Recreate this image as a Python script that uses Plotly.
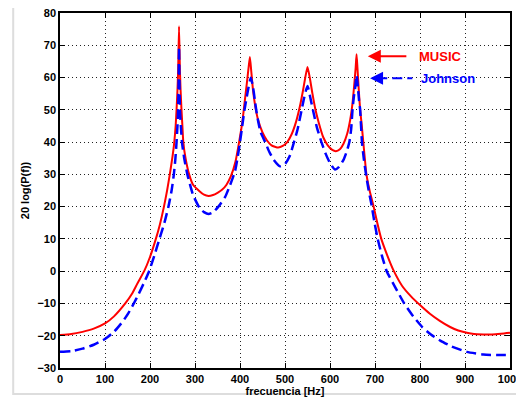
import plotly.graph_objects as go

# MUSIC spectrum (dB)
music_f = [0, 25, 50, 75, 100, 120, 145, 160, 172, 187, 200, 213, 222, 231, 238, 244,
           250, 254, 257, 259, 261, 262.5, 264.5, 266.5, 268, 270, 272, 274, 279, 287,
           296, 310, 320, 330, 340, 350, 360, 370, 380, 390, 398, 405, 410, 415, 419,
           422, 425, 429, 434, 440, 450, 460, 470, 485, 495, 505, 515, 525, 533, 540,
           545, 550, 555, 561, 567, 575, 585, 595, 605, 613, 622, 630, 638, 645, 650,
           654, 657, 659, 661, 664, 667, 670, 674, 681, 688, 697, 705, 714, 727, 742,
           760, 780, 800, 822, 844, 867, 885, 904, 920, 941, 960, 980, 1000]
music_db = [-19.8, -19.5, -18.8, -17.8, -16.2, -14, -10, -7, -3.8, 0, 4.4, 10, 14.5, 20, 25, 30,
            35.5, 40, 45, 50, 56, 62, 75.9, 62, 56, 50, 45, 40, 35, 30,
            26.7, 24.8, 23.7, 23.3, 23.6, 24.3, 25.2, 26.8, 29.5, 34, 40, 46, 52, 58, 63,
            66.4, 62, 56, 51, 47, 43, 40.5, 39, 38.3, 38.8, 40, 42.5, 46.5, 51, 56,
            60, 63.3, 60, 55, 50.5, 46, 41.5, 39, 37.6, 37.2, 37.8, 39.5, 42.5, 47, 52,
            58, 63, 67.2, 63, 56, 50, 46, 40, 30, 25, 20, 15, 10, 5, 0,
            -4.5, -7.8, -10.5, -13.2, -15.4, -17.3, -18.4, -19.1, -19.5, -19.6, -19.6, -19.4, -19.1]

# Johnson spectrum (dB)
johnson_f = [0, 25, 50, 75, 100, 120, 140, 152, 164, 175, 187, 198, 210, 221, 232, 241,
             248, 253, 256.5, 259, 261, 262.5, 263.5, 264.5, 265.5, 266.5, 268.5, 271, 276,
             283, 296, 311, 320, 330, 340, 352, 367, 378, 389, 395,
             400, 405, 410, 415, 419, 424, 429, 433, 436, 441, 446, 456, 465, 475, 489,
             500, 510, 520, 528, 537, 543, 550, 556, 562, 571, 581, 590, 600, 611, 620,
             630, 637, 643, 647, 650, 653, 656, 659, 662, 664.5, 667, 669, 671, 675, 680,
             686, 693, 699, 706, 715, 726, 745, 765, 785, 805, 825, 845, 870, 904, 941,
             970, 1000]
johnson_db = [-25, -24.8, -24, -22.8, -21, -18.8, -15.5, -13, -10, -7, -3.5, 0, 5, 10, 15, 20,
              25, 30, 35, 40, 45, 50, 58, 69.5, 58, 50, 45, 40, 35,
              30, 23.5, 19.4, 18.3, 17.7, 18.2, 20, 23, 26.7, 31, 35.5,
              40, 45, 50, 54, 57, 59.9, 57, 53, 50, 46, 43, 40, 37, 34.5, 32.5,
              33.2, 35.5, 40, 44, 50, 54, 57.4, 54, 50, 44.5, 40, 36.5, 33.5, 31.5, 32.3,
              34.5, 37, 40, 44, 50, 54, 57, 60.7, 57, 53, 50, 45, 40, 35, 30,
              25, 20, 15, 10, 5, 0, -5, -10, -14, -17.3, -19.7, -21.5, -23.3, -25, -25.8,
              -26, -26]

x_ticks = list(range(0, 1001, 100))
y_ticks = list(range(-30, 81, 10))

FONT = "Liberation Sans, Arial, sans-serif"

fig = go.Figure()
fig.add_trace(go.Scatter(x=music_f, y=music_db, mode="lines", name="MUSIC",
                         line=dict(color="#ff0000", width=2, shape="spline", smoothing=0.5)))
fig.add_trace(go.Scatter(x=johnson_f, y=johnson_db, mode="lines", name="Johnson",
                         line=dict(color="#0000ff", width=2.5, dash="10px,5px",
                                   shape="spline", smoothing=0.5)))

# arrows + labels
fig.add_annotation(x=684, y=66.6, ax=773, ay=66.6, axref="x", ayref="y", text="",
                   showarrow=True, arrowhead=2, arrowsize=1.3, arrowwidth=2, arrowcolor="#ff0000")
fig.add_shape(type="line", x0=705, x1=783, y0=59.8, y1=59.8,
              line=dict(color="#0000ff", width=2, dash="10px,5px"))
fig.add_annotation(x=689, y=59.8, ax=702, ay=59.8, axref="x", ayref="y", text="",
                   showarrow=True, arrowhead=2, arrowsize=1.3, arrowwidth=2, arrowcolor="#0000ff")
fig.add_annotation(x=793, y=66.6, text="MUSIC", showarrow=False, xanchor="left",
                   font=dict(color="#ff0000", size=13, family=FONT, weight="bold"))
fig.add_annotation(x=798, y=59.8, text="Johnson", showarrow=False, xanchor="left",
                   font=dict(color="#0000ff", size=13, family=FONT, weight="bold"))

# light figure frame
fig.add_shape(type="rect", xref="paper", yref="paper", x0=-0.104, x1=1.2, y0=-0.073, y1=1.028,
              line=dict(color="#dddddd", width=2), layer="below")

axis_common = dict(showline=True, linecolor="black", linewidth=1.5, mirror="ticks",
                   ticks="inside", ticklen=5, tickcolor="black", automargin=False,
                   ticklabeloverflow="allow",
                   showgrid=True, gridcolor="#222222", griddash="1px,3px", gridwidth=1,
                   zeroline=False,
                   tickfont=dict(family=FONT, size=11, color="black", weight="bold"))

fig.update_xaxes(range=[0, 1000], tickvals=x_ticks,
                 title=dict(text="frecuencia [Hz]", standoff=0,
                            font=dict(family=FONT, size=11, color="black", weight="bold")),
                 **axis_common)
fig.update_yaxes(range=[-30, 80], tickvals=y_ticks,
                 title=dict(text="20 log(P(f))", standoff=6,
                            font=dict(family=FONT, size=11, color="black", weight="bold")),
                 **axis_common)

# page body has an 8px margin, so the figure is sized to land the axes where the reference has them
fig.update_layout(width=516, height=392, showlegend=False,
                  margin=dict(l=52, r=14, t=5, b=32),
                  paper_bgcolor="white", plot_bgcolor="white")

fig.write_html("out.html")
